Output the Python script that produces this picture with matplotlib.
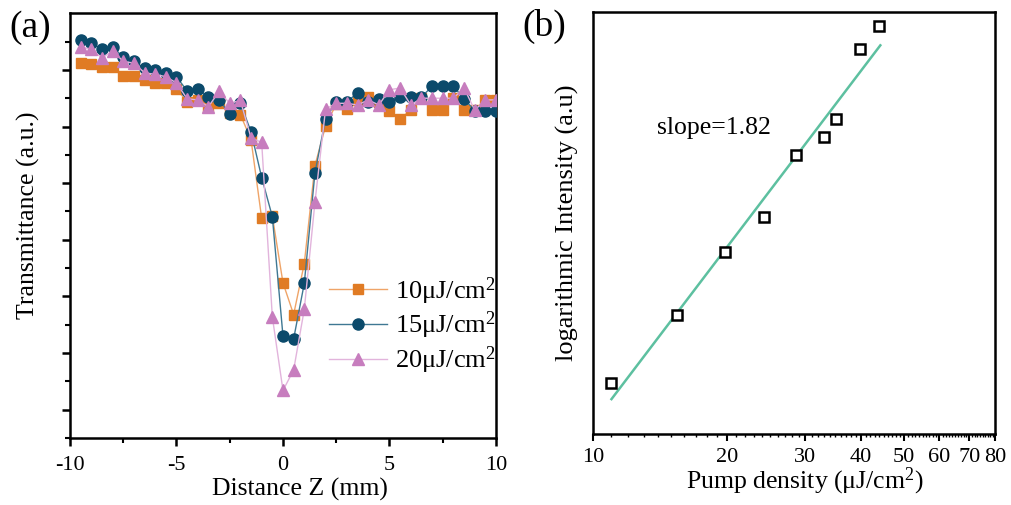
import numpy as np
import matplotlib
matplotlib.use("Agg")
import matplotlib.pyplot as plt
from matplotlib.ticker import FixedLocator, NullFormatter, FixedFormatter, NullLocator

plt.rcParams['font.family'] = ['Liberation Serif', 'DejaVu Serif']
plt.rcParams['mathtext.default'] = 'regular'
plt.rcParams['axes.unicode_minus'] = False

# ---------------- data: panel (a) ----------------
z_mm = [-9.5, -9.0, -8.5, -8.0, -7.5, -7.0, -6.5, -6.0, -5.5, -5.0,
        -4.5, -4.0, -3.5, -3.0, -2.5, -2.0, -1.5, -1.0, -0.5, 0.0,
        0.5, 1.0, 1.5, 2.0, 2.5, 3.0, 3.5, 4.0, 4.5, 5.0,
        5.5, 6.0, 6.5, 7.0, 7.5, 8.0, 8.5, 9.0, 9.5, 10.0]

t_10 = [1.013, 1.010, 1.006, 1.006, 0.990, 0.990, 0.982, 0.977, 0.977, 0.966,
        0.944, 0.947, 0.934, 0.942, 0.924, 0.921, 0.877, 0.738, 0.742, 0.624,
        0.568, 0.658, 0.831, 0.901, 0.940, 0.931, 0.947, 0.953, 0.944, 0.928,
        0.914, 0.929, 0.951, 0.929, 0.929, 0.950, 0.929, 0.929, 0.947, 0.947]

t_15 = [1.052, 1.047, 1.037, 1.041, 1.022, 1.015, 1.003, 0.999, 0.994, 0.988,
        0.963, 0.966, 0.952, 0.947, 0.922, 0.941, 0.891, 0.810, 0.741, 0.530,
        0.525, 0.623, 0.818, 0.914, 0.944, 0.944, 0.959, 0.944, 0.948, 0.944,
        0.953, 0.952, 0.952, 0.971, 0.971, 0.971, 0.949, 0.928, 0.928, 0.928]

t_20 = [1.040, 1.037, 1.021, 1.034, 1.015, 1.012, 0.995, 0.992, 0.988, 0.977,
        0.949, 0.947, 0.935, 0.962, 0.941, 0.946, 0.880, 0.872, 0.564, 0.434,
        0.470, 0.577, 0.766, 0.931, 0.941, 0.941, 0.938, 0.947, 0.938, 0.965,
        0.968, 0.938, 0.950, 0.950, 0.950, 0.950, 0.968, 0.929, 0.947, 0.947]

series_labels = ['10μJ/cm$^2$', '15μJ/cm$^2$', '20μJ/cm$^2$']

# ---------------- data: panel (b) ----------------
pump = [11.0, 15.4, 19.8, 24.2, 28.6, 33.0, 35.2, 39.7, 44.0]
log_int = [1.22, 2.84, 4.33, 5.17, 6.64, 7.08, 7.50, 9.16, 9.72]
fit_x = [11.0, 44.2]
fit_y = [0.83, 9.25]
slope_text = 'slope=1.82'

x_major_b = [10, 20, 30, 40, 50, 60, 70, 80]
x_major_b_labels = ['10', '20', '30', '40', '50', '60', '70', '80']

# ---------------- figure ----------------
fig = plt.figure(figsize=(10.11, 5.05), dpi=100)
axA = fig.add_axes([0.0692, 0.1327, 0.4214, 0.8410])
axB = fig.add_axes([0.5866, 0.1406, 0.3976, 0.8362])

c_or, c_nv, c_pk = '#E07B24', '#0B4A6B', '#C77DBE'
l_or, l_nv, l_pk = '#EFA468', '#3F7893', '#E2B4DC'

axA.plot(z_mm, t_10, '-', color=l_or, lw=1.0, marker='s', ms=7,
         mfc=c_or, mec=c_or, label=series_labels[0], zorder=3)
axA.plot(z_mm, t_15, '-', color=l_nv, lw=1.0, marker='o', ms=8,
         mfc=c_nv, mec=c_nv, label=series_labels[1], zorder=4)
axA.plot(z_mm, t_20, '-', color=l_pk, lw=1.0, marker='^', ms=8.5,
         mfc=c_pk, mec=c_pk, label=series_labels[2], zorder=5)

axA.set_xlim(-10, 10)
axA.set_ylim(0.35, 1.10)
axA.xaxis.set_major_locator(FixedLocator([-10, -5, 0, 5, 10]))
axA.xaxis.set_minor_locator(FixedLocator([-7.5, -2.5, 2.5, 7.5]))
axA.yaxis.set_major_locator(FixedLocator([0.4, 0.5, 0.6, 0.7, 0.8, 0.9, 1.0]))
axA.yaxis.set_minor_locator(FixedLocator([0.35, 0.45, 0.55, 0.65, 0.75, 0.85, 0.95, 1.05]))
axA.yaxis.set_major_formatter(NullFormatter())
axA.tick_params(axis='both', which='major', direction='out', length=6, width=1.8,
                labelsize=16, top=False, right=False)
axA.tick_params(axis='x', which='major', pad=7)
axA.tick_params(axis='both', which='minor', direction='out', length=3.5, width=1.5,
                top=False, right=False)
for sp in axA.spines.values():
    sp.set_linewidth(1.8)
axA.set_xlabel('Distance Z (mm)', fontsize=18.5, labelpad=3)
axA.set_ylabel('Transmittance (a.u.)', fontsize=18.5, labelpad=12)
axA.xaxis.set_label_coords(0.54, -0.095)
axA.yaxis.set_label_coords(-0.071, 0.525)

leg = axA.legend(loc='upper left', bbox_to_anchor=(0.583, 0.408), frameon=False,
                 fontsize=19, handlelength=2.2, handletextpad=0.3,
                 labelspacing=0.12, borderaxespad=0)

# panel (b)
axB.plot(fit_x, fit_y, '-', color='#5DC0A0', lw=1.8, zorder=2)
axB.plot(pump, log_int, 's', ms=7.5, mfc='white', mec='black', mew=1.8,
         linestyle='none', zorder=3)
axB.set_xscale('log')
axB.set_xlim(10, 80)
axB.set_ylim(0, 10.05)
axB.xaxis.set_major_locator(FixedLocator(x_major_b))
axB.xaxis.set_major_formatter(FixedFormatter(x_major_b_labels))
axB.xaxis.set_minor_locator(FixedLocator([v for v in range(11, 80) if v % 10 != 0]))
axB.xaxis.set_minor_formatter(NullFormatter())
axB.yaxis.set_major_locator(NullLocator())
axB.yaxis.set_minor_locator(NullLocator())
axB.tick_params(axis='x', which='major', direction='out', length=5, width=1.5,
                labelsize=16, top=False, pad=5)
axB.tick_params(axis='x', which='minor', direction='out', length=2.5, width=1.0,
                top=False)
for sp in axB.spines.values():
    sp.set_linewidth(1.8)
axB.set_xlabel('Pump density (μJ/cm$^2$)', fontsize=18.5, labelpad=0)
axB.xaxis.set_label_coords(0.527, -0.075)
axB.set_ylabel('logarithmic Intensity (a.u)', fontsize=19, labelpad=12)
axB.yaxis.set_label_coords(-0.035, 0.5)
axB.text(0.158, 0.725, slope_text, transform=axB.transAxes, fontsize=18.5,
         ha='left', va='center')

fig.text(0.009, 0.945, '(a)', fontsize=27, ha='left', va='center')
fig.text(0.517, 0.948, '(b)', fontsize=27, ha='left', va='center')

fig.savefig('out.png', dpi=100)
